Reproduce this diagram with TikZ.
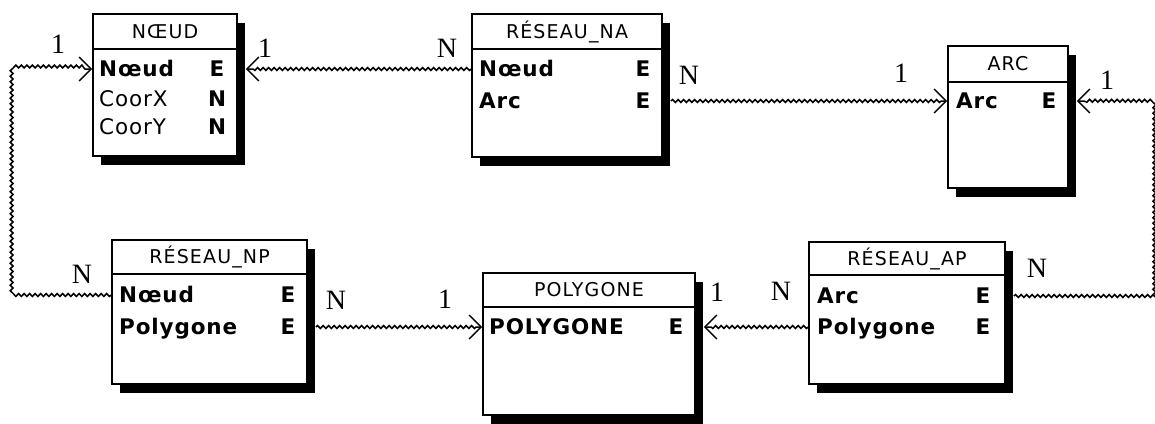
\documentclass[tikz,border=0pt]{standalone}
\usepackage{fontspec}
\setmainfont{Liberation Serif}
\newfontfamily\boxfont[LetterSpace=4]{DejaVu Sans}
\newfontfamily\titlefont[LetterSpace=6]{DejaVu Sans}
\usetikzlibrary{shadows,decorations.pathmorphing,arrows.meta,calc}
\newcommand\entity[7]{%
  \node[ebox, minimum width={#4-#2}, minimum height={#5-#3}] (#1) at ({(#2+#4)/2},{(#3+#5)/2}) {};
  \draw[line width=1.5pt] (#2,#6) -- (#4,#6);
  \node[etitle] (#1-t) at ({(#2+#4)/2},{(#3+#6)/2}) {#7};
}
\begin{document}
\begin{tikzpicture}[x=1pt,y=-1pt,
  ebox/.style={draw, line width=1.8pt, fill=white, inner sep=0pt,
    general shadow={fill=black, shadow xshift=8pt, shadow yshift=-9pt}},
  etitle/.style={font=\titlefont\fontsize{19}{19}\selectfont, inner sep=0pt, text height=13.5pt, text depth=0pt},
  fld/.style={font=\boxfont\bfseries\fontsize{21.5}{21.5}\selectfont, anchor=west, inner sep=0pt, text height=15.5pt, text depth=0pt},
  fldr/.style={font=\boxfont\fontsize{21.5}{21.5}\selectfont, anchor=west, inner sep=0pt, text height=15.5pt, text depth=0pt},
  typ/.style={font=\boxfont\bfseries\fontsize{21.5}{21.5}\selectfont, inner sep=0pt, text height=15.5pt, text depth=0pt},
  card/.style={font=\fontsize{28}{28}\selectfont, inner sep=0pt},
  conn/.style={line width=1.5pt, decorate,
    decoration={snake, amplitude=1.5pt, segment length=5.5pt, post length=6pt},
    -{Straight Barb[length=12pt,width=24pt,line width=1.4pt]}}
]
\useasboundingbox (0,0) rectangle (1155,423);

\entity{noeud}{93}{14}{237}{156}{49}{NŒUD}
\node[fld]  (noeud-r1) at (99,69) {Nœud};
\node[typ]  (noeud-t1) at (217,69) {E};
\node[fldr] (noeud-r2) at (99,99) {CoorX};
\node[typ]  (noeud-t2) at (217,99) {N};
\node[fldr] (noeud-r3) at (99,127) {CoorY};
\node[typ]  (noeud-t3) at (217,127) {N};

\entity{na}{472}{14}{662}{157}{49}{RÉSEAU\_NA}
\node[fld] (na-r1) at (479,69) {Nœud};
\node[typ] (na-t1) at (643,69) {E};
\node[fld] (na-r2) at (479,101) {Arc};
\node[typ] (na-t2) at (643,101) {E};

\entity{arc}{948}{46}{1068}{188}{82}{ARC}
\node[fld] (arc-r1) at (956,101) {Arc};
\node[typ] (arc-t1) at (1049,101) {E};

\entity{np}{112}{240}{307}{384}{274}{RÉSEAU\_NP}
\node[fld] (np-r1) at (119,295) {Nœud};
\node[typ] (np-t1) at (288,295) {E};
\node[fld] (np-r2) at (119,327) {Polygone};
\node[typ] (np-t2) at (288,327) {E};

\entity{poly}{483}{273}{695}{415}{307}{POLYGONE}
\node[fld] (poly-r1) at (489,327) {POLYGONE};
\node[typ] (poly-t1) at (676,327) {E};

\entity{ap}{809}{242}{1005}{384}{275}{RÉSEAU\_AP}
\node[fld] (ap-r1) at (817,296) {Arc};
\node[typ] (ap-t1) at (983,296) {E};
\node[fld] (ap-r2) at (817,327) {Polygone};
\node[typ] (ap-t2) at (983,327) {E};

\draw[conn] (np.west |- np-r1) -- ++(-97,0) |- (noeud.west |- noeud-r1);
\draw[conn] (na.west |- na-r1) -- ($(noeud.east |- na-r1)+(8,0)$);
\draw[conn] ($(na.east |- na-r2)+(8,0)$) -- (arc.west |- na-r2);
\draw[conn] ($(ap.east |- ap-r1)+(8,0)$) -- ++(140,0) |- ($(arc.east |- arc-r1)+(8,0)$);
\draw[conn] ($(np.east |- np-r2)+(8,0)$) -- (poly.west |- np-r2);
\draw[conn] (ap.west |- ap-r2) -- ($(poly.east |- ap-r2)+(8,0)$);

\node[card] (c1)  at (58,44)    {1};
\node[card] (c2)  at (265,48)   {1};
\node[card] (c3)  at (447,48)   {N};
\node[card] (c4)  at (689,75)   {N};
\node[card] (c5)  at (901,73)   {1};
\node[card] (c6)  at (1107,80)  {1};
\node[card] (c7)  at (82,274)   {N};
\node[card] (c8)  at (336,300)  {N};
\node[card] (c9)  at (445,299)  {1};
\node[card] (c10) at (717,292)  {1};
\node[card] (c11) at (781,291)  {N};
\node[card] (c12) at (1037,268) {N};
\end{tikzpicture}
\end{document}
